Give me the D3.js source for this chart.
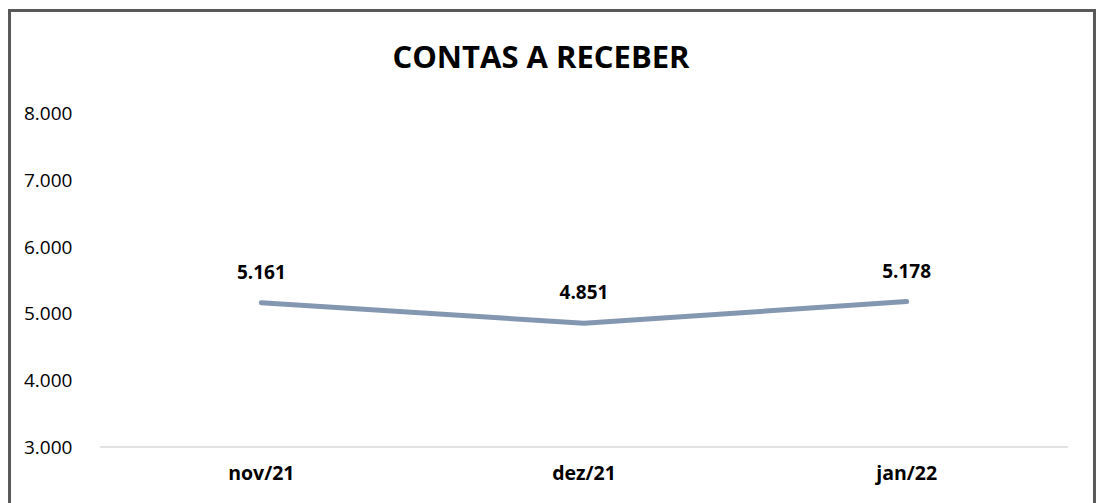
<!DOCTYPE html>
<html lang="pt">
<head>
<meta charset="UTF-8">
<title>Contas a Receber</title>
<script src="https://d3js.org/d3.v7.min.js"></script>
<style>
  body { margin: 0; padding: 0; background: #fff; }
  svg { display: block; font-family: 'Open Sans', sans-serif; }
</style>
</head>
<body>
<svg width="1098" height="503"></svg>
<script>
const months = ["nov/21", "dez/21", "jan/22"];
const values = [5161, 4851, 5178];
const yTicks = [3000, 4000, 5000, 6000, 7000, 8000];

const svg = d3.select("svg");
const fmt = v => d3.format(",")(v).replace(/,/g, ".");

// outer frame
svg.append("rect")
   .attr("x", 9.5).attr("y", 10.5)
   .attr("width", 1085).attr("height", 510)
   .attr("fill", "none")
   .attr("stroke", "#595959")
   .attr("stroke-width", 3);

svg.append("text")
   .attr("x", 541).attr("y", 68)
   .attr("text-anchor", "middle")
   .attr("font-size", 31)
   .attr("font-weight", "bold")
   .attr("fill", "#000")
   .text("CONTAS A RECEBER");

const x = d3.scaleBand().domain(months).range([100, 1068]);
const y = d3.scaleLinear().domain([3000, 8000]).range([447, 113]);

// baseline
svg.append("line")
   .attr("x1", 100).attr("x2", 1068)
   .attr("y1", y(3000)).attr("y2", y(3000))
   .attr("stroke", "#d9d9d9").attr("stroke-width", 1.5);

svg.selectAll(".ytick")
   .data(yTicks)
   .enter().append("text")
   .attr("class", "ytick")
   .attr("x", 24)
   .attr("y", d => y(d) + 7)
   .attr("font-size", 19)
   .attr("fill", "#000")
   .text(d => fmt(d));

svg.selectAll(".xlab")
   .data(months)
   .enter().append("text")
   .attr("class", "xlab")
   .attr("x", d => x(d) + x.bandwidth() / 2)
   .attr("y", 480)
   .attr("text-anchor", "middle")
   .attr("font-size", 19.5)
   .attr("font-weight", "bold")
   .attr("fill", "#000")
   .text(d => d);

const pts = months.map((m, i) => ({ m: m, v: values[i] }));

const line = d3.line()
   .x(d => x(d.m) + x.bandwidth() / 2)
   .y(d => y(d.v));

svg.append("path")
   .datum(pts)
   .attr("d", line)
   .attr("fill", "none")
   .attr("stroke", "#8497b0")
   .attr("stroke-width", 5)
   .attr("stroke-linecap", "round")
   .attr("stroke-linejoin", "round");

svg.selectAll(".dlab")
   .data(pts)
   .enter().append("text")
   .attr("class", "dlab")
   .attr("x", d => x(d.m) + x.bandwidth() / 2)
   .attr("y", d => y(d.v) - 24)
   .attr("text-anchor", "middle")
   .attr("font-size", 19)
   .attr("font-weight", "bold")
   .attr("fill", "#000")
   .text(d => fmt(d.v));
</script>
</body>
</html>
